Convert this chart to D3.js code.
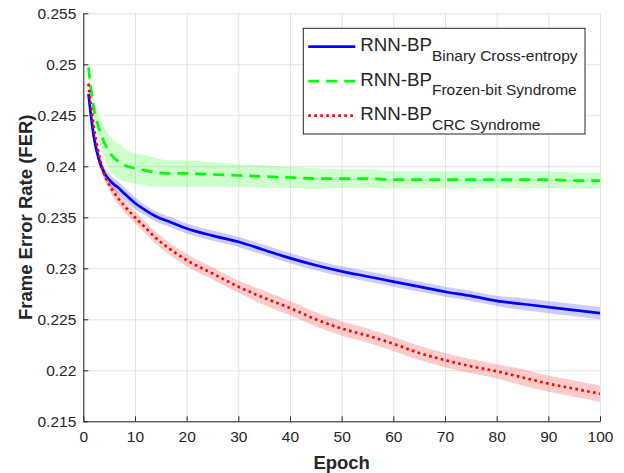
<!DOCTYPE html>
<html>
<head>
<meta charset="utf-8">
<script src="https://cdn.jsdelivr.net/npm/d3@7"></script>
<style>
  body { margin: 0; background: #fff; }
  text { font-family: "Liberation Sans", Arial, sans-serif; fill: #262626; }
</style>
</head>
<body>
<div id="chart"></div>
<script>
// valeurs
const epochs = [1, 2, 3, 4, 5, 6, 7, 8, 10, 12, 14, 17, 20, 25, 30, 35, 40, 45, 50, 55, 60, 65, 70, 75, 80, 85, 90, 95, 100];

const ferBCE = [0.2471, 0.2430, 0.2407, 0.2394, 0.2387, 0.2382, 0.2378, 0.2373, 0.2364, 0.2357, 0.2351, 0.2345, 0.2339,
  0.2332, 0.2326, 0.2318, 0.2310, 0.2303, 0.2297, 0.2292, 0.2287, 0.2282, 0.2277, 0.2273, 0.2268, 0.2265, 0.2262, 0.2259, 0.2256];
const ferFrozen = [0.2497, 0.2458, 0.2438, 0.2424, 0.2414, 0.2408, 0.2404, 0.2401, 0.2398, 0.2396, 0.2394, 0.2393, 0.2393,
  0.2392, 0.2391, 0.2390, 0.2389, 0.2388, 0.2388, 0.2388, 0.2387, 0.2387, 0.2387, 0.2387, 0.2387, 0.2387, 0.2387, 0.2386, 0.2386];
const ferCRC = [0.2481, 0.2440, 0.2412, 0.2393, 0.2382, 0.2374, 0.2367, 0.2361, 0.2350, 0.2340, 0.2330, 0.2318, 0.2308,
  0.2295, 0.2282, 0.2271, 0.2261, 0.2250, 0.2241, 0.2234, 0.2226, 0.2217, 0.2210, 0.2204, 0.2199, 0.2193, 0.2187, 0.2182, 0.2177];

// demi-largeur des bandes
const spreadBCE = [0.0003, 0.0004, 0.0005, 0.0005, 0.0006, 0.0006, 0.0006, 0.0006, 0.0006, 0.0005, 0.0005, 0.0005, 0.0005,
  0.0005, 0.0005, 0.0005, 0.0005, 0.0005, 0.0005, 0.0005, 0.0005, 0.0005, 0.0005, 0.0005, 0.0005, 0.0006, 0.0006, 0.0006, 0.0006];
const spreadFrozen = [0.0008, 0.0010, 0.0012, 0.0015, 0.0017, 0.0017, 0.0017, 0.0016, 0.0015, 0.0015, 0.0014, 0.0013, 0.0013,
  0.0012, 0.0011, 0.0011, 0.0010, 0.0010, 0.0009, 0.0009, 0.0008, 0.0008, 0.0008, 0.0008, 0.0008, 0.0008, 0.0008, 0.0008, 0.0008];
const spreadCRC = [0.0003, 0.0004, 0.0005, 0.0005, 0.0005, 0.0006, 0.0006, 0.0006, 0.0006, 0.0006, 0.0006, 0.0006, 0.0006,
  0.0006, 0.0006, 0.0007, 0.0007, 0.0007, 0.0007, 0.0007, 0.0007, 0.0007, 0.0007, 0.0007, 0.0007, 0.0008, 0.0008, 0.0008, 0.0008];

const xTicks = [0, 10, 20, 30, 40, 50, 60, 70, 80, 90, 100];
const yTicks = [0.215, 0.22, 0.225, 0.23, 0.235, 0.24, 0.245, 0.25, 0.255];

const legendMain = "RNN-BP";
const legendSubs = ["Binary Cross-entropy", "Frozen-bit Syndrome", "CRC Syndrome"];

// dimensions
const W = 624, H = 473;
const margin = {top: 13.3, right: 24, bottom: 51.7, left: 83.3};
const width = W - margin.left - margin.right;
const height = H - margin.top - margin.bottom;

const svg = d3.select("#chart").append("svg")
    .attr("width", W).attr("height", H)
  .append("g")
    .attr("transform", `translate(${margin.left},${margin.top})`);

const x = d3.scaleLinear().domain([0, 100]).range([0, width]);
const y = d3.scaleLinear().domain([0.215, 0.255]).range([height, 0]);

// grille
svg.append("g")
    .attr("transform", `translate(0,${height})`)
    .call(d3.axisBottom(x).tickValues(xTicks).tickSize(-height).tickFormat(""))
    .call(g => g.select(".domain").remove())
    .call(g => g.selectAll("line").attr("stroke", "#e3e3e3"));
svg.append("g")
    .call(d3.axisLeft(y).tickValues(yTicks).tickSize(-width).tickFormat(""))
    .call(g => g.select(".domain").remove())
    .call(g => g.selectAll("line").attr("stroke", "#e3e3e3"));

// séries
const series = [
  {vals: ferBCE, spread: spreadBCE, color: "#0000ff", dash: null},
  {vals: ferFrozen, spread: spreadFrozen, color: "#00ff00", dash: "11,7"},
  {vals: ferCRC, spread: spreadCRC, color: "#ff0000", dash: "2.6,3.4"}
];

const area = d3.area()
    .x(d => x(d.e))
    .y0(d => y(d.v - d.s))
    .y1(d => y(d.v + d.s))
    .curve(d3.curveMonotoneX);
const line = d3.line()
    .x(d => x(d.e))
    .y(d => y(d.v))
    .curve(d3.curveMonotoneX);

const pts = s => epochs.map((e, i) => ({e: e, v: s.vals[i], s: s.spread[i]}));

svg.append("g").selectAll("path")
  .data(series)
  .join("path")
    .attr("d", s => area(pts(s)))
    .attr("fill", s => s.color)
    .attr("fill-opacity", 0.2);

svg.append("g").selectAll("path")
  .data(series)
  .join("path")
    .attr("d", s => line(pts(s)))
    .attr("fill", "none")
    .attr("stroke", s => s.color)
    .attr("stroke-width", 2.7)
    .attr("stroke-dasharray", s => s.dash);

// axes
const xAxis = svg.append("g")
    .attr("transform", `translate(0,${height})`)
    .call(d3.axisBottom(x).tickValues(xTicks).tickSize(-5).tickSizeOuter(0).tickPadding(10));
const yAxis = svg.append("g")
    .call(d3.axisLeft(y).tickValues(yTicks).tickSize(-5).tickSizeOuter(0).tickPadding(7)
      .tickFormat(d => String(+d.toFixed(3))));
[xAxis, yAxis].forEach(g => {
  g.selectAll("path, line").attr("stroke", "#262626");
  g.selectAll("text").attr("fill", "#262626").style("font-size", "15.5px")
    .style("font-family", '"Liberation Sans", Arial, sans-serif');
});

// titres des axes
svg.append("text")
    .attr("x", width / 2).attr("y", H - margin.top - 4)
    .attr("text-anchor", "middle")
    .style("font-size", "18.5px").style("font-weight", "bold")
    .text("Epoch");
svg.append("text")
    .attr("transform", `translate(${32 - margin.left},${height / 2}) rotate(-90)`)
    .attr("text-anchor", "middle")
    .style("font-size", "18.5px").style("font-weight", "bold")
    .text("Frame Error Rate (FER)");

// légende
const leg = svg.append("g").attr("transform", `translate(${303.3 - margin.left},${28.3 - margin.top})`);
leg.append("rect")
    .attr("width", 281.7).attr("height", 105.7)
    .attr("fill", "#fff").attr("stroke", "#262626").attr("stroke-width", 1);

const rows = leg.selectAll("g.row")
  .data(series)
  .join("g")
    .attr("class", "row")
    .attr("transform", (d, i) => `translate(0,${18.4 + i * 34.5})`);
rows.append("line")
    .attr("x1", 5).attr("x2", 52)
    .attr("stroke", s => s.color)
    .attr("stroke-width", 2.7)
    .attr("stroke-dasharray", s => s.dash);
const lt = rows.append("text")
    .attr("x", 57).attr("y", 4.3)
    .style("font-size", "18.7px");
lt.append("tspan").text(legendMain);
lt.append("tspan")
    .attr("dy", 9.5)
    .style("font-size", "15.5px")
    .text((d, i) => legendSubs[i]);
</script>
</body>
</html>
